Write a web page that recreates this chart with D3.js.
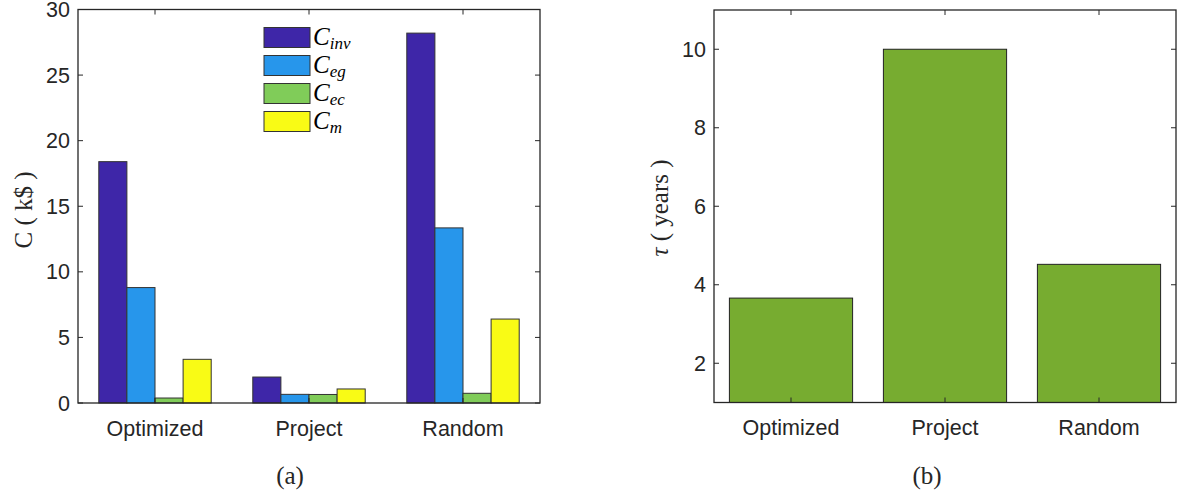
<!DOCTYPE html>
<html><head><meta charset="utf-8">
<script src="https://cdn.jsdelivr.net/npm/d3@7"></script>
<style>body{margin:0;background:#fff;} svg{display:block;}</style>
</head><body>
<svg id="c" width="1179" height="495"></svg>
<script>
const categories = ["Optimized", "Project", "Random"];
const seriesNames = ["inv", "eg", "ec", "m"];
const Cinv = [18.4, 1.98, 28.2];
const Ceg = [8.8, 0.66, 13.35];
const Cec = [0.38, 0.65, 0.74];
const Cm = [3.33, 1.07, 6.4];
const tau = [3.66, 10.0, 4.52];
const leftTicks = [0, 5, 10, 15, 20, 25, 30];
const rightTicks = [2, 4, 6, 8, 10];
const seriesColors = ["#3E26A8", "#2796EB", "#80CC59", "#F9FB15"];

const svg = d3.select("#c");
const axisCol = "#262626";
const tickFont = "'Liberation Sans', Arial, sans-serif";
const serif = "'Liberation Serif', 'DejaVu Serif', serif";
const tl = 5;
const fs = 21.5;

function frame(g, x, y, xr, yr, yticks, fmt) {
  const [x0, x1] = xr, [y0, y1] = yr;
  yticks.forEach(t => {
    const yy = y(t);
    g.append("line").attr("x1", x0).attr("x2", x0 + tl).attr("y1", yy).attr("y2", yy).attr("stroke", axisCol);
    g.append("line").attr("x1", x1).attr("x2", x1 - tl).attr("y1", yy).attr("y2", yy).attr("stroke", axisCol);
    g.append("text").attr("x", x0 - 8).attr("y", yy + 7.5).attr("text-anchor", "end")
      .attr("font-family", tickFont).attr("font-size", fs).attr("fill", axisCol).text(fmt(t));
  });
  categories.forEach(c => {
    const xx = x(c) + x.bandwidth() / 2;
    g.append("line").attr("x1", xx).attr("x2", xx).attr("y1", y0).attr("y2", y0 - tl).attr("stroke", axisCol);
    g.append("line").attr("x1", xx).attr("x2", xx).attr("y1", y1).attr("y2", y1 + tl).attr("stroke", axisCol);
    g.append("text").attr("x", xx).attr("y", y0 + 32.5).attr("text-anchor", "middle")
      .attr("font-family", tickFont).attr("font-size", fs).attr("fill", axisCol).text(c);
  });
  g.append("rect").attr("x", x0).attr("y", y1).attr("width", x1 - x0).attr("height", y0 - y1)
    .attr("fill", "none").attr("stroke", axisCol).attr("stroke-width", 1.3);
}

// Left panel
{
  const L = 78, R = 540, T = 9.5, B = 403;
  const x = d3.scaleBand().domain(categories).range([L, R]).padding(0);
  const y = d3.scaleLinear().domain([0, 30]).range([B, T]);
  const gW = x.bandwidth() * 0.73;
  const xs = d3.scaleBand().domain(seriesNames).range([0, gW]).padding(0);
  const data = [Cinv, Ceg, Cec, Cm];
  const g = svg.append("g");
  categories.forEach((c, i) => {
    const start = x(c) + (x.bandwidth() - gW) / 2;
    seriesNames.forEach((s, j) => {
      const v = data[j][i];
      g.append("rect").attr("x", start + xs(s)).attr("y", y(v)).attr("width", xs.bandwidth())
        .attr("height", y(0) - y(v)).attr("fill", seriesColors[j]).attr("stroke", "#333").attr("stroke-width", 1);
    });
  });
  frame(g, x, y, [L, R], [B, T], leftTicks, d3.format("d"));
  g.append("text").attr("transform", "translate(32,210) rotate(-90)").attr("text-anchor", "middle")
    .attr("font-family", serif).attr("font-size", 25).attr("fill", axisCol).text("C ( k$ )");
  const subs = ["inv", "eg", "ec", "m"];
  subs.forEach((s, j) => {
    const yy = 27.5 + j * 28;
    g.append("rect").attr("x", 264).attr("y", yy).attr("width", 46).attr("height", 20)
      .attr("fill", seriesColors[j]).attr("stroke", "#333").attr("stroke-width", 1);
    const t = g.append("text").attr("x", 313).attr("y", yy + 17).attr("font-family", serif)
      .attr("font-style", "italic").attr("font-size", 25).attr("fill", "#000");
    t.append("tspan").text("C");
    t.append("tspan").attr("font-size", 17).attr("dy", 4).text(s);
  });
  g.append("text").attr("x", 290).attr("y", 484).attr("text-anchor", "middle")
    .attr("font-family", serif).attr("font-size", 25).attr("fill", axisCol).text("(a)");
}

// Right panel
{
  const L = 714, R = 1176, T = 10, B = 402.5;
  const x = d3.scaleBand().domain(categories).range([L, R]).padding(0);
  const y = d3.scaleLinear().domain([1, 11]).range([B, T]);
  const g = svg.append("g");
  const bw = x.bandwidth() * 0.8;
  categories.forEach((c, i) => {
    const xx = x(c) + (x.bandwidth() - bw) / 2;
    g.append("rect").attr("x", xx).attr("y", y(tau[i])).attr("width", bw).attr("height", y(1) - y(tau[i]))
      .attr("fill", "#77AC30").attr("stroke", "#222").attr("stroke-width", 1);
  });
  frame(g, x, y, [L, R], [B, T], rightTicks, d3.format("d"));
  const t = g.append("text").attr("transform", "translate(668,208) rotate(-90)").attr("text-anchor", "middle")
    .attr("font-family", serif).attr("font-size", 25).attr("fill", axisCol);
  t.append("tspan").attr("font-style", "italic").text("τ");
  t.append("tspan").text(" ( years )");
  g.append("text").attr("x", 927).attr("y", 484).attr("text-anchor", "middle")
    .attr("font-family", serif).attr("font-size", 25).attr("fill", axisCol).text("(b)");
}
</script>
</body></html>
